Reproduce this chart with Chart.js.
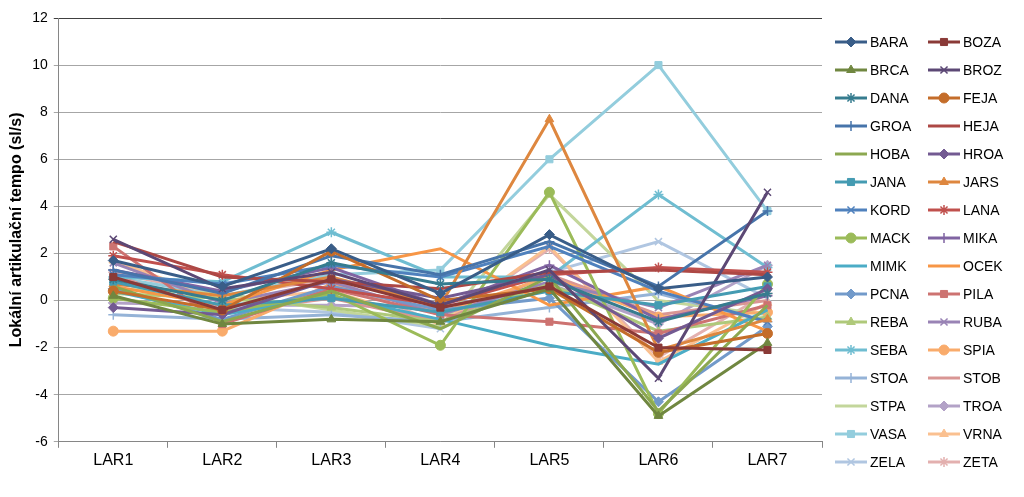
<!DOCTYPE html>
<html>
<head>
<meta charset="utf-8">
<script src="https://cdn.jsdelivr.net/npm/chart.js@4.4.0/dist/chart.umd.min.js"></script>
<style>
  html, body { margin: 0; padding: 0; background: #fff; }
  #wrap { width: 1024px; height: 497px; position: relative; }
</style>
</head>
<body>
<div id="wrap"><canvas id="tempo"></canvas></div>
<script>
// categories
var labels = ["LAR1", "LAR2", "LAR3", "LAR4", "LAR5", "LAR6", "LAR7"];

// series values (sl/s)
var BARA = [1.7, 0.6, 2.2, 0.3, 2.8, 0.5, 1.0];
var BOZA = [1.0, -0.4, 0.9, -0.3, 0.6, -2.0, -2.1];
var BRCA = [0.2, -1.0, -0.8, -0.9, 0.5, -4.9, -1.8];
var BROZ = [2.6, 0.5, 1.2, -0.2, 1.3, -3.3, 4.6];
var DANA = [0.9, 0.0, 1.6, 0.7, 0.9, -0.9, 0.3];
var FEJA = [0.4, -0.4, 2.1, 0.0, 0.5, -2.2, -1.4];
var GROA = [1.3, 0.3, 1.9, 1.1, 2.5, 0.6, 3.8];
var HEJA = [2.5, 1.0, 0.8, 0.5, 1.2, 1.3, 1.1];
var HOBA = [0.6, -0.9, 0.4, -1.2, 1.0, -4.7, -0.2];
var HROA = [-0.3, -0.6, 0.9, 0.1, 1.1, -1.6, 0.5];
var JANA = [0.8, -0.2, 0.1, -0.5, 0.4, -0.2, 0.6];
var JARS = [0.7, 0.2, 1.0, -0.2, 7.7, -2.1, -0.8];
var KORD = [1.1, 0.7, 1.5, 1.0, 2.3, 0.4, -0.9];
var LANA = [1.9, 1.1, 0.5, -0.2, 1.1, 1.4, 1.2];
var MACK = [0.1, -0.5, 0.3, -1.9, 4.6, -4.8, 0.7];
var MIKA = [1.3, 0.4, 1.4, -0.2, 1.5, -0.8, 0.2];
var MIMK = [0.4, -0.6, 0.2, -0.8, -1.9, -2.7, -0.4];
var OCEK = [0.6, -0.2, 1.3, 2.2, -0.2, 0.6, -1.3];
var PCNA = [0.5, -0.8, 0.6, -0.4, 0.1, -4.3, -1.1];
var PILA = [2.3, -1.0, 0.5, -0.6, -0.9, -1.4, -0.2];
var REBA = [0.3, 0.1, -0.3, -0.9, 0.7, -1.3, -0.7];
var RUBA = [1.6, -0.1, 0.8, -0.6, 0.8, -0.3, 1.5];
var SEBA = [1.0, 0.8, 2.9, 1.0, 1.0, 4.5, 1.4];
var SPIA = [-1.3, -1.3, 0.7, -0.5, 1.0, -0.7, -0.5];
var STOA = [-0.6, -0.8, -0.6, -0.9, -0.3, 0.3, -0.9];
var STOB = [1.1, -0.5, 0.1, -0.9, 1.1, -0.6, 0.0];
var STPA = [0.5, 0.3, -0.4, -1.1, 4.5, 0.0, -0.6];
var TROA = [-0.1, -0.2, -0.2, -0.3, 0.7, -1.0, 1.5];
var VASA = [1.0, 0.2, 1.1, 1.3, 6.0, 10.0, 3.8];
var VRNA = [1.7, 0.0, 0.4, -1.0, 2.3, -2.6, -0.1];
var ZELA = [0.9, -0.3, -0.5, -1.2, 1.2, 2.5, 0.1];
var ZETA = [1.2, 0.2, 0.9, -1.0, 2.2, -2.4, 0.3];

var speakers = ["BARA", "BOZA", "BRCA", "BROZ", "DANA", "FEJA", "GROA", "HEJA",
    "HOBA", "HROA", "JANA", "JARS", "KORD", "LANA", "MACK", "MIKA", "MIMK", "OCEK",
    "PCNA", "PILA", "REBA", "RUBA", "SEBA", "SPIA", "STOA", "STOB", "STPA", "TROA",
    "VASA", "VRNA", "ZELA", "ZETA"];
var seriesValues = [BARA, BOZA, BRCA, BROZ, DANA, FEJA, GROA, HEJA, HOBA, HROA,
    JANA, JARS, KORD, LANA, MACK, MIKA, MIMK, OCEK, PCNA, PILA, REBA, RUBA, SEBA,
    SPIA, STOA, STOB, STPA, TROA, VASA, VRNA, ZELA, ZETA];

// office palette, six shades from dark to light
var colors = [
    "#395d88", "#8a3a37", "#708740", "#5c4875", "#367c8f", "#c46d2a",
    "#4774aa", "#ad4845", "#8ca850", "#735a92", "#449bb2", "#de873f",
    "#4f81bd", "#c0504d", "#9bbb59", "#8064a2", "#4bacc6", "#f79646",
    "#729aca", "#cd7371", "#afc97a", "#9983b5", "#6fbdd1", "#f9ab6b",
    "#95b3d7", "#d99694", "#c3d69b", "#b3a2c7", "#93cddd", "#fac090",
    "#b0c6e1", "#e3b0af"
];
// excel marker cycle: diamond, square, triangle, x, star, circle, plus, none, none
var markerCycle = ["rectRot", "rect", "triangle", "crossRot", "star", "circle", "cross", null, null];

var FONT = "'Liberation Sans', Arial, sans-serif";

var datasets = speakers.map(function (name, i) {
    var marker = markerCycle[i % markerCycle.length];
    return {
        label: name,
        data: seriesValues[i],
        borderColor: colors[i],
        backgroundColor: colors[i],
        borderWidth: 3,
        pointStyle: marker || "circle",
        pointRadius: marker ? 5 : 0,
        pointBorderWidth: marker === "crossRot" || marker === "star" || marker === "cross" ? 1.5 : 1,
        tension: 0,
        fill: false
    };
});

// two-column legend, row-major like the excel original
var legendPlugin = {
    id: "twoColLegend",
    afterDraw: function (chart) {
        var ctx = chart.ctx;
        var left = chart.chartArea.right + 13;
        ctx.save();
        chart.data.datasets.forEach(function (ds, i) {
            var col = i % 2, row = Math.floor(i / 2);
            var x0 = left + col * 93, y = 42 + row * 28;
            ctx.strokeStyle = ds.borderColor;
            ctx.fillStyle = ds.backgroundColor;
            ctx.lineWidth = 3;
            ctx.beginPath();
            ctx.moveTo(x0, y);
            ctx.lineTo(x0 + 32, y);
            ctx.stroke();
            if (ds.pointRadius > 0) {
                ctx.lineWidth = ds.pointBorderWidth;
                Chart.helpers.drawPoint(ctx, {
                    pointStyle: ds.pointStyle,
                    radius: ds.pointRadius,
                    rotation: 0,
                    borderWidth: ds.pointBorderWidth
                }, x0 + 16, y);
            }
            ctx.fillStyle = "#000";
            ctx.font = "14px " + FONT;
            ctx.textBaseline = "middle";
            ctx.fillText(ds.label, x0 + 35, y + 1);
        });
        ctx.restore();
    }
};

var chart = new Chart(document.getElementById("tempo"), {
    type: "line",
    data: { labels: labels, datasets: datasets },
    plugins: [legendPlugin],
    options: {
        responsive: true,
        maintainAspectRatio: false,
        animation: false,
        layout: { padding: { top: 18, right: 202, left: 7, bottom: 24 } },
        plugins: {
            legend: { display: false },
            tooltip: { enabled: false }
        },
        scales: {
            x: {
                offset: true,
                grid: { display: true, offset: true, drawOnChartArea: false, color: "#868686", tickLength: 6 },
                border: { color: "#868686" },
                ticks: { color: "#000", font: { size: 16, family: FONT }, padding: 3 }
            },
            y: {
                min: -6,
                max: 12,
                ticks: { stepSize: 2, color: "#000", font: { size: 14, family: FONT }, padding: 6 },
                grid: {
                    color: function (c) { return c.tick && c.tick.value === 12 ? "#404040" : "#a6a6a6"; },
                    tickLength: 5
                },
                border: { color: "#868686" },
                title: {
                    display: true,
                    text: "Lokální artikulační tempo (sl/s)",
                    color: "#000",
                    font: { size: 16, weight: "bold", family: FONT },
                    padding: 0
                }
            }
        }
    }
});
</script>
</body>
</html>
